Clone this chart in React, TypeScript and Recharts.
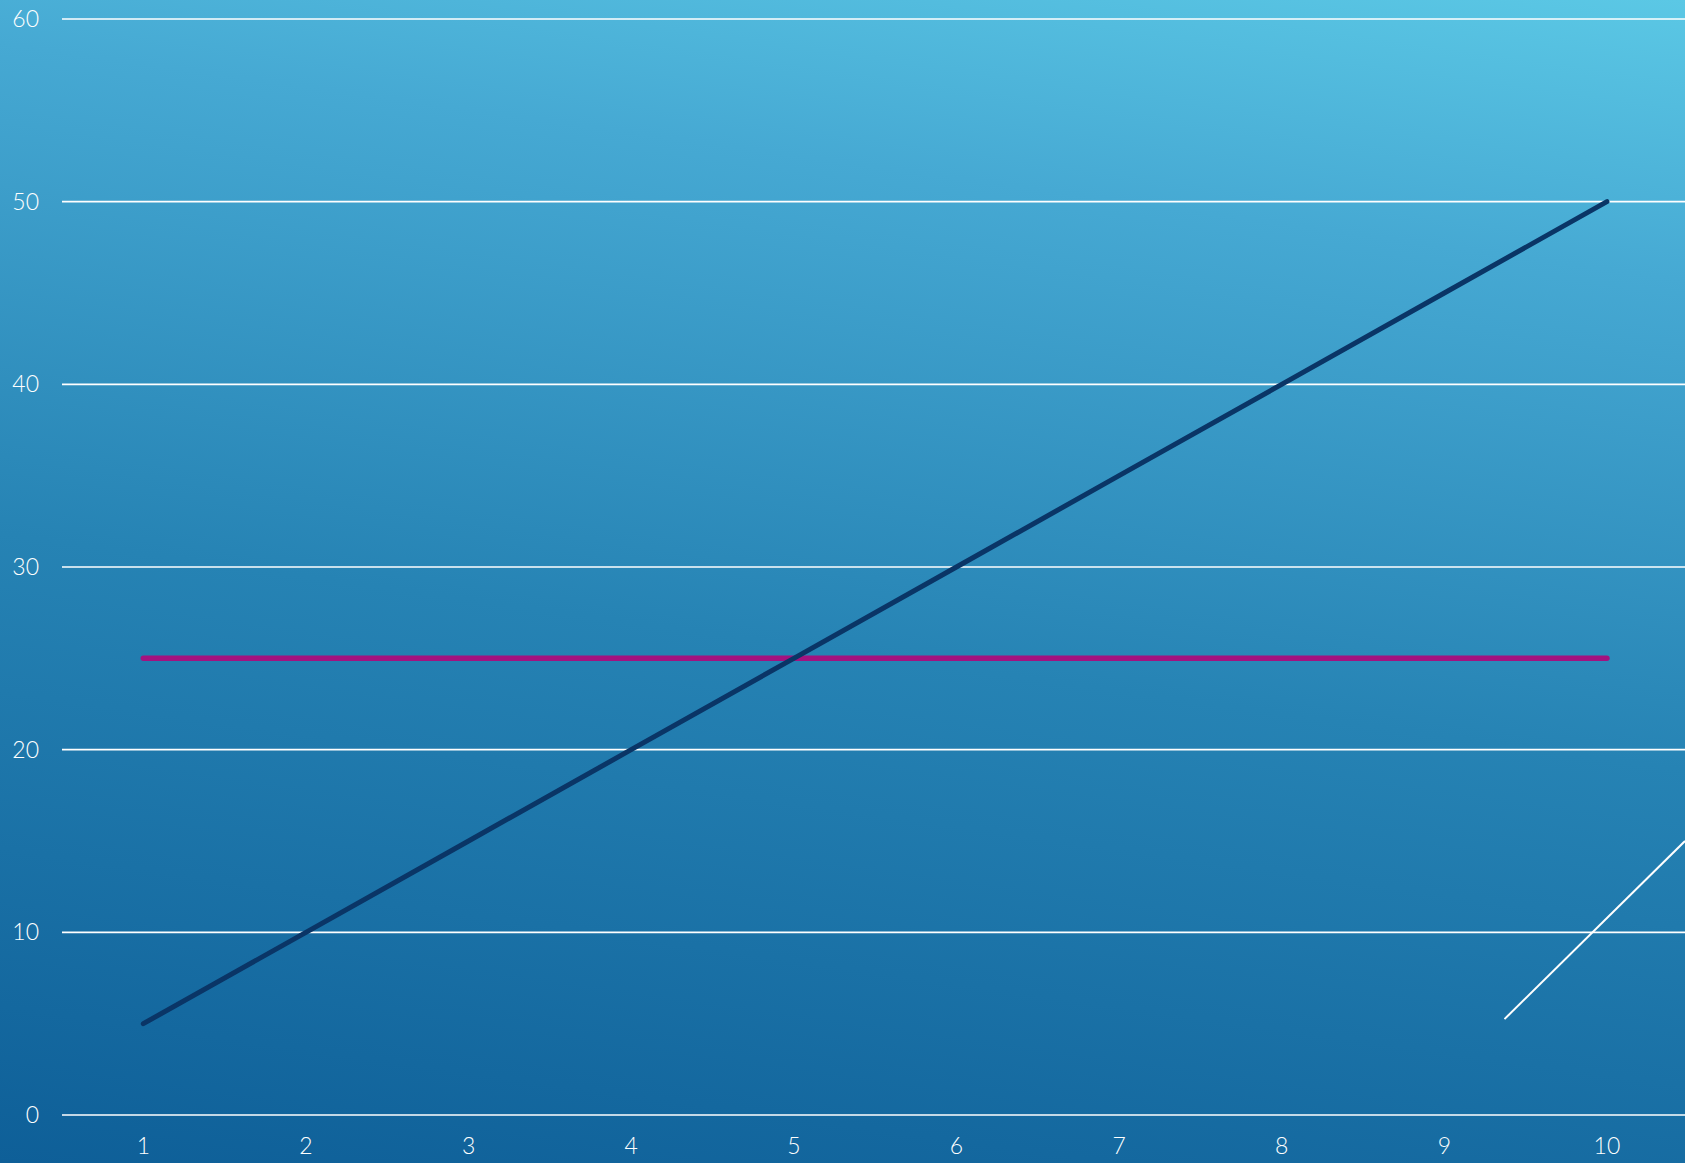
import React from "react";
import { LineChart, Line, XAxis, YAxis, CartesianGrid } from "recharts";

const categories = [1, 2, 3, 4, 5, 6, 7, 8, 9, 10];
const rising = [5, 10, 15, 20, 25, 30, 35, 40, 45, 50];
const flat = [25, 25, 25, 25, 25, 25, 25, 25, 25, 25];
const strayX = [9.37, 10.48];
const strayY = [5.25, 15.0];
const yTicks = [0, 10, 20, 30, 40, 50, 60];

const data = categories.map((c, i) => ({ x: c, rising: rising[i], flat: flat[i] }));
const strayData = strayX.map((x, i) => ({ x, stray: strayY[i] }));

const W = 1685;
const H = 1163;
const FONT = "Lato, 'Open Sans', sans-serif";

export default function App() {
  return (
    <div
      style={{
        position: "absolute",
        left: 0,
        top: 0,
        width: W,
        height: H,
        overflow: "hidden",
        background: "linear-gradient(8deg, #0E5F98 0%, #2683B4 45%, #46A9D3 80%, #5BC8E5 100%)",
      }}
    >
      <LineChart width={W} height={H} data={data} margin={{ top: 19, right: 0, bottom: 0, left: 0 }}>
        <CartesianGrid vertical={false} stroke="#FFFFFF" strokeWidth={1.6} />
        <XAxis
          dataKey="x"
          type="number"
          domain={[0.5, 10.48]}
          ticks={categories}
          allowDataOverflow
          axisLine={false}
          tickLine={false}
          tickSize={0}
          tickMargin={23}
          height={48}
          tick={{ fill: "#FFFFFF", fontSize: 23, fontFamily: FONT, fontWeight: 300 }}
        />
        <YAxis
          type="number"
          domain={[0, 60]}
          ticks={yTicks}
          axisLine={false}
          tickLine={false}
          tickSize={0}
          tickMargin={23}
          width={62}
          tick={{ fill: "#FFFFFF", fontSize: 23, fontFamily: FONT, fontWeight: 300 }}
        />
        <Line
          dataKey="flat"
          stroke="#A3127F"
          strokeWidth={5.5}
          dot={false}
          activeDot={false}
          strokeLinecap="round"
          isAnimationActive={false}
        />
        <Line
          dataKey="rising"
          stroke="#0A3566"
          strokeWidth={5}
          dot={false}
          activeDot={false}
          strokeLinecap="round"
          isAnimationActive={false}
        />
        <Line
          data={strayData}
          dataKey="stray"
          stroke="#FFFFFF"
          strokeWidth={2}
          dot={false}
          activeDot={false}
          isAnimationActive={false}
        />
      </LineChart>
    </div>
  );
}
